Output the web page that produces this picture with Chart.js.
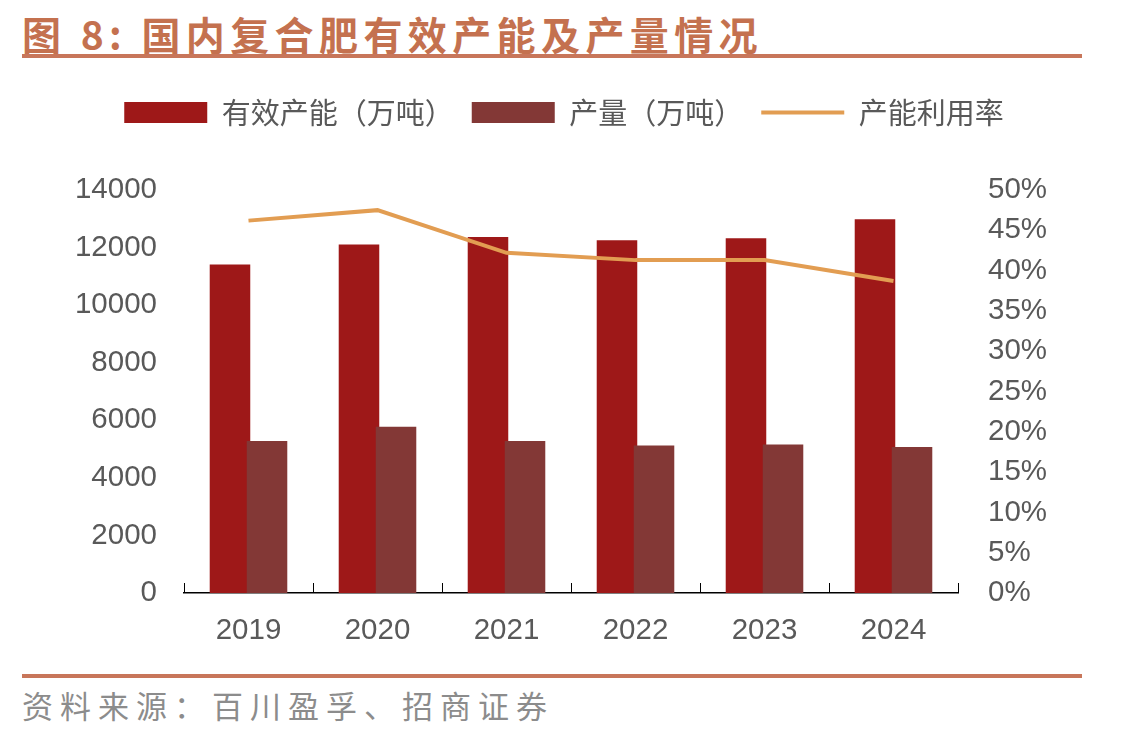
<!DOCTYPE html>
<html>
<head>
<meta charset="utf-8">
<script src="https://cdn.jsdelivr.net/npm/chart.js@4.4.1/dist/chart.umd.min.js"></script>
<style>
  body { margin: 0; background: #fff; width: 1128px; height: 737px; position: relative; overflow: hidden; }
  .title { position: absolute; left: 22px; top: 5px; font: bold 39px "Noto Sans CJK SC", sans-serif; color: #C4714F; letter-spacing: 5.4px; white-space: nowrap; }
  .rule { position: absolute; left: 22px; width: 1060px; height: 4px; background: #C8765A; }
  .source { position: absolute; left: 22px; top: 682px; font: 31px "Noto Sans CJK SC", sans-serif; color: #8c8c8c; letter-spacing: 7px; white-space: nowrap; }
  .chart-box { position: absolute; left: 0; top: 80px; width: 1128px; height: 580px; }
</style>
</head>
<body>
<div class="title">图 8:&nbsp;国内复合肥有效产能及产量情况</div>
<div class="rule" style="top:54px"></div>
<div class="chart-box"><canvas id="capacityChart"></canvas></div>
<div class="rule" style="top:674px"></div>
<div class="source">资料来源：百川盈孚、招商证券</div>
<script>
// 年份
const years = ["2019", "2020", "2021", "2022", "2023", "2024"];
// 有效产能（万吨）
const capacity = [11410, 12105, 12370, 12255, 12325, 12980];
// 产量（万吨）
const output = [5280, 5775, 5280, 5120, 5155, 5070];
// 产能利用率（%）
const utilization = [46.2, 47.5, 42.2, 41.3, 41.3, 38.7];

const tickFont = { family: '"Liberation Sans", Arial, sans-serif', size: 29.5 };

// 图例和坐标区之间留白
const legendSpacer = {
  id: "legendSpacer",
  beforeInit(chart) {
    const fit = chart.legend.fit;
    chart.legend.fit = function () {
      fit.bind(chart.legend)();
      this.height += 53;
    };
  }
};

// 产量柱压在有效产能柱上面：先画红柱，再画棕柱
const barOrder = {
  id: "barOrder",
  beforeDatasetDraw(chart, args) {
    if (args.index === 0) return false;
    if (args.index === 1) {
      chart.getDatasetMeta(0).controller.draw();
    }
  }
};

// x轴朝上的小刻度线（分类边界）
const innerTicks = {
  id: "innerTicks",
  afterDraw(chart) {
    const xs = chart.scales.x;
    const ctx = chart.ctx;
    const n = years.length;
    ctx.save();
    ctx.strokeStyle = "#000";
    ctx.lineWidth = 1;
    for (let i = 0; i <= n; i++) {
      let px;
      if (i === 0) px = xs.left;
      else if (i === n) px = xs.right;
      else px = (xs.getPixelForValue(i - 1) + xs.getPixelForValue(i)) / 2;
      px = Math.round(px) + 0.5;
      ctx.beginPath();
      ctx.moveTo(px, xs.top);
      ctx.lineTo(px, xs.top - 10);
      ctx.stroke();
    }
    ctx.restore();
  }
};

new Chart(document.getElementById("capacityChart").getContext("2d"), {
  type: "bar",
  data: {
    labels: years,
    datasets: [
      {
        label: "有效产能（万吨）",
        data: capacity,
        backgroundColor: "#9E1818",
        pointStyle: "rect",
        yAxisID: "y",
        categoryPercentage: 0.574,
        barPercentage: 1.095
      },
      {
        label: "产量（万吨）",
        data: output,
        backgroundColor: "#833836",
        pointStyle: "rect",
        yAxisID: "y",
        categoryPercentage: 0.574,
        barPercentage: 1.095
      },
      {
        type: "line",
        label: "产能利用率",
        data: utilization,
        borderColor: "#E29D52",
        backgroundColor: "#E29D52",
        borderWidth: 4,
        pointRadius: 0,
        pointStyle: "line",
        tension: 0,
        yAxisID: "y1",
        order: -1
      }
    ]
  },
  options: {
    responsive: true,
    maintainAspectRatio: false,
    animation: false,
    layout: { padding: 0 },
    plugins: {
      tooltip: { enabled: false },
      legend: {
        display: true,
        position: "top",
        labels: {
          usePointStyle: true,
          pointStyleWidth: 83,
          boxHeight: 21,
          padding: 18,
          color: "#595959",
          font: { family: '"Noto Sans CJK SC", sans-serif', size: 29 },
          sort: (a, b) => a.datasetIndex - b.datasetIndex
        }
      }
    },
    scales: {
      x: {
        grid: { display: false, drawTicks: false },
        border: { display: true, color: "#000", width: 1.5 },
        ticks: { color: "#595959", font: tickFont, padding: 20 },
        afterFit(scale) { scale.height = 67; }
      },
      y: {
        position: "left",
        min: 0,
        max: 14000,
        grid: { display: false, drawTicks: false },
        border: { display: false },
        ticks: { stepSize: 2000, color: "#595959", font: tickFont, padding: 27, callback: v => String(v) },
        afterFit(scale) { scale.width = 184; }
      },
      y1: {
        position: "right",
        min: 0,
        max: 50,
        grid: { display: false, drawTicks: false },
        border: { display: false },
        ticks: {
          stepSize: 5,
          color: "#595959",
          font: tickFont,
          padding: 30,
          callback: v => v + "%"
        },
        afterFit(scale) { scale.width = 170; }
      }
    }
  },
  plugins: [legendSpacer, barOrder, innerTicks]
});
</script>
</body>
</html>
